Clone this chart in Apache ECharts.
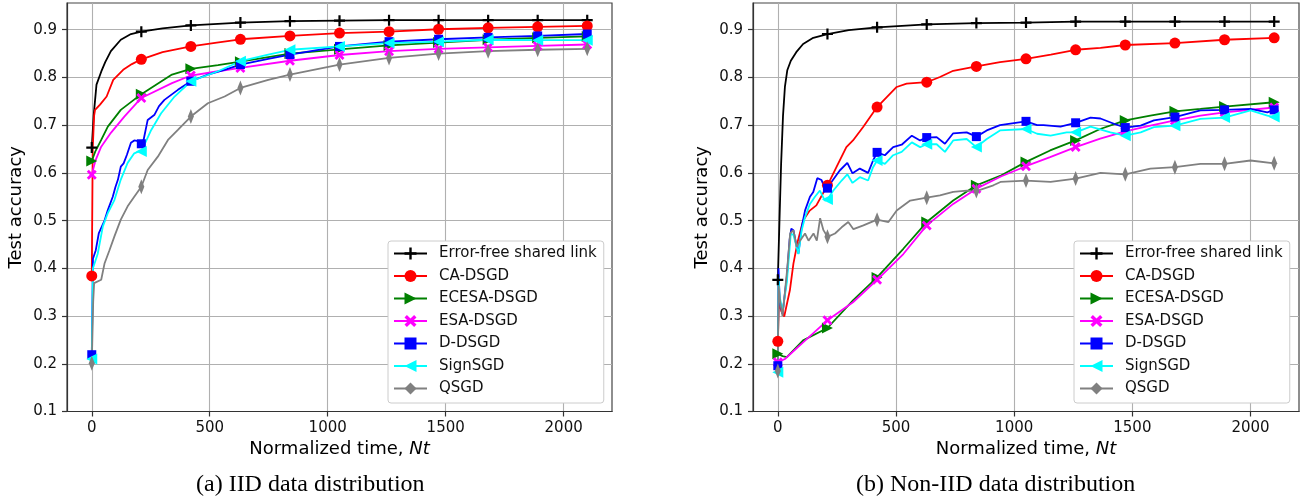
<!DOCTYPE html>
<html>
<head>
<meta charset="utf-8">
<script src="https://cdn.jsdelivr.net/npm/echarts@6/dist/echarts.min.js"></script>
<style>
html, body { margin: 0; padding: 0; background: #fff; }
#chart { width: 1312px; height: 501px; }
</style>
</head>
<body>
<div id="chart"></div>
<script>
const names = ['Error-free shared link', 'CA-DSGD', 'ECESA-DSGD', 'ESA-DSGD', 'D-DSGD', 'SignSGD', 'QSGD'];
const xTicks = [0, 500, 1000, 1500, 2000];
const yTicks = [0.1, 0.2, 0.3, 0.4, 0.5, 0.6, 0.7, 0.8, 0.9];
// markers are drawn only at these x values
const markX = [0, 210, 420, 630, 840, 1050, 1260, 1470, 1680, 1890, 2100];

// (a) IID
const iidErrFree = [[0,0.653],[8,0.72],[20,0.785],[40,0.812],[57,0.832],[81,0.855],[123,0.879],[166,0.891],[210,0.896],[300,0.903],[420,0.909],[630,0.915],[840,0.918],[1050,0.919],[1260,0.92],[1470,0.92],[1680,0.92],[1890,0.92],[2100,0.92]];
const iidCA = [[0,0.384],[4,0.65],[10,0.72],[14,0.732],[35,0.743],[63,0.76],[91,0.795],[133,0.816],[170,0.828],[210,0.838],[300,0.853],[420,0.865],[530,0.873],[630,0.88],[840,0.887],[1050,0.893],[1260,0.896],[1470,0.901],[1680,0.904],[1890,0.906],[2100,0.908]];
const iidECESA = [[0,0.625],[15,0.645],[40,0.669],[68,0.697],[123,0.732],[210,0.765],[340,0.806],[420,0.818],[535,0.826],[630,0.833],[840,0.85],[1050,0.859],[1260,0.867],[1470,0.873],[1680,0.879],[1890,0.883],[2100,0.886]];
const iidESA = [[0,0.596],[15,0.625],[40,0.655],[81,0.684],[138,0.718],[210,0.757],[340,0.788],[420,0.804],[535,0.813],[630,0.82],[840,0.835],[1050,0.847],[1260,0.855],[1470,0.86],[1680,0.863],[1890,0.866],[2100,0.869]];
const iidD = [[0,0.219],[5,0.42],[17,0.438],[30,0.474],[54,0.5],[68,0.522],[89,0.55],[100,0.57],[111,0.586],[123,0.613],[135,0.62],[149,0.638],[166,0.663],[180,0.668],[202,0.666],[210,0.661],[220,0.67],[237,0.711],[266,0.722],[285,0.74],[308,0.753],[365,0.774],[420,0.792],[492,0.806],[563,0.816],[630,0.827],[748,0.839],[840,0.848],[1050,0.865],[1260,0.875],[1470,0.88],[1680,0.884],[1890,0.887],[2100,0.891]];
const iidSign = [[0,0.21],[5,0.4],[25,0.43],[47,0.488],[68,0.516],[96,0.543],[123,0.586],[152,0.621],[180,0.641],[200,0.645],[210,0.645],[252,0.69],[294,0.725],[351,0.76],[420,0.792],[535,0.813],[630,0.834],[748,0.848],[840,0.858],[1050,0.865],[1260,0.872],[1470,0.875],[1680,0.879],[1890,0.878],[2100,0.878]];
const iidQ = [[0,0.201],[6,0.33],[10,0.369],[40,0.376],[54,0.41],[75,0.438],[96,0.467],[123,0.502],[152,0.53],[180,0.55],[210,0.571],[237,0.606],[280,0.634],[323,0.669],[365,0.69],[420,0.718],[492,0.746],[563,0.76],[630,0.778],[748,0.795],[840,0.806],[1050,0.827],[1260,0.841],[1470,0.85],[1680,0.855],[1890,0.858],[2100,0.86]];

// (b) Non-IID
const niidErrFree = [[0,0.376],[7,0.5],[14,0.62],[22,0.72],[30,0.78],[40,0.815],[55,0.835],[78,0.853],[107,0.87],[150,0.883],[210,0.891],[300,0.899],[420,0.905],[630,0.911],[840,0.914],[1050,0.915],[1260,0.917],[1470,0.917],[1680,0.917],[1890,0.917],[2100,0.917]];
const niidCA = [[0,0.247],[5,0.33],[15,0.31],[27,0.299],[51,0.354],[66,0.41],[85,0.458],[107,0.5],[135,0.521],[163,0.532],[210,0.574],[248,0.612],[290,0.654],[318,0.668],[361,0.696],[420,0.738],[461,0.759],[503,0.78],[545,0.787],[630,0.79],[686,0.801],[742,0.814],[840,0.823],[940,0.832],[1050,0.839],[1155,0.848],[1260,0.858],[1365,0.862],[1470,0.868],[1680,0.872],[1890,0.879],[2100,0.883]];
const niidECESA = [[0,0.221],[20,0.216],[38,0.214],[107,0.249],[210,0.275],[318,0.333],[420,0.381],[531,0.441],[630,0.497],[742,0.542],[840,0.574],[946,0.595],[1050,0.623],[1152,0.647],[1260,0.668],[1364,0.692],[1470,0.71],[1576,0.72],[1680,0.729],[1788,0.734],[1890,0.739],[2100,0.748]];
const niidESA = [[0,0.203],[30,0.21],[107,0.245],[210,0.291],[318,0.329],[420,0.376],[531,0.43],[630,0.49],[742,0.535],[840,0.567],[946,0.593],[1050,0.614],[1152,0.633],[1260,0.654],[1364,0.672],[1470,0.687],[1576,0.699],[1680,0.71],[1788,0.72],[1890,0.727],[2100,0.737]];
const niidD = [[0,0.196],[3,0.4],[8,0.33],[20,0.305],[38,0.381],[50,0.46],[57,0.483],[66,0.48],[77,0.452],[87,0.431],[101,0.486],[115,0.521],[136,0.55],[150,0.56],[167,0.589],[185,0.585],[199,0.568],[210,0.568],[227,0.581],[262,0.605],[294,0.621],[316,0.599],[347,0.609],[382,0.6],[403,0.626],[420,0.643],[453,0.637],[488,0.654],[524,0.659],[567,0.678],[602,0.668],[630,0.674],[672,0.675],[707,0.661],[742,0.683],[799,0.685],[840,0.676],[884,0.689],[940,0.7],[1050,0.708],[1097,0.7],[1124,0.7],[1196,0.697],[1260,0.705],[1323,0.716],[1365,0.714],[1422,0.703],[1470,0.695],[1535,0.699],[1591,0.71],[1680,0.717],[1788,0.731],[1890,0.732],[2000,0.734],[2071,0.727],[2100,0.732]];
const niidSign = [[0,0.182],[3,0.381],[8,0.34],[20,0.31],[38,0.37],[55,0.473],[66,0.47],[77,0.45],[87,0.43],[101,0.48],[115,0.507],[136,0.535],[157,0.55],[178,0.563],[199,0.542],[210,0.544],[235,0.563],[270,0.584],[294,0.597],[316,0.579],[347,0.591],[382,0.584],[403,0.612],[420,0.626],[453,0.619],[488,0.637],[524,0.644],[567,0.664],[602,0.654],[630,0.66],[672,0.66],[707,0.644],[742,0.668],[799,0.671],[840,0.654],[884,0.671],[940,0.689],[1050,0.692],[1097,0.682],[1154,0.678],[1222,0.685],[1260,0.685],[1323,0.697],[1407,0.685],[1470,0.678],[1535,0.685],[1591,0.696],[1680,0.699],[1788,0.713],[1890,0.716],[2000,0.731],[2071,0.72],[2100,0.717]];
const niidQ = [[0,0.185],[3,0.364],[10,0.33],[20,0.3],[40,0.4],[52,0.473],[66,0.48],[80,0.445],[94,0.458],[115,0.473],[130,0.458],[151,0.473],[165,0.458],[179,0.505],[193,0.48],[210,0.466],[242,0.473],[270,0.486],[298,0.497],[320,0.482],[362,0.49],[420,0.502],[468,0.497],[503,0.521],[560,0.542],[630,0.548],[686,0.553],[742,0.56],[799,0.563],[840,0.562],[912,0.574],[942,0.581],[1050,0.584],[1154,0.581],[1260,0.588],[1365,0.6],[1470,0.597],[1576,0.609],[1680,0.612],[1788,0.619],[1890,0.619],[2000,0.626],[2100,0.62]];

const colors = ['#000000', '#ff0000', '#008000', '#ff00ff', '#0000ff', '#00ffff', '#808080'];
const symbols = [
  'path://M4,0h2v4h4v2h-4v4h-2v-4h-4v-2h4z',
  'circle',
  'path://M0,0L10,5L0,10Z',
  'path://M0,2L2,0L5,3L8,0L10,2L7,5L10,8L8,10L5,7L2,10L0,8L3,5Z',
  'rect',
  'path://M10,0L0,5L10,10Z',
  'path://M3,0L6,5L3,10L0,5Z'
];
const symSizes = [11, 11, 11, 10, 9, 11, [10, 15]];

const font = 'DejaVu Sans';

function makeSeries(list, gi) {
  return list.map((d, i) => ({
    name: names[i],
    type: 'line',
    xAxisIndex: gi,
    yAxisIndex: gi,
    data: d,
    symbol: symbols[i],
    symbolSize: (v) => (markX.includes(v[0]) ? symSizes[i] : 0),
    symbolKeepAspect: true,
    showSymbol: true,
    animation: false,
    emphasis: { disabled: true },
    lineStyle: { color: colors[i], width: 1.8 },
    itemStyle: { color: colors[i] }
  }));
}

function xAx(gi) {
  return {
    type: 'value', gridIndex: gi, min: -105, max: 2205,
    name: 'Normalized time, {i|Nt}', nameLocation: 'middle', nameGap: 28,
    nameTextStyle: { fontFamily: font, fontSize: 18, color: '#000', rich: { i: { fontFamily: font, fontSize: 18, fontStyle: 'italic' } } },
    axisLine: { show: true, onZero: false, lineStyle: { color: '#333', width: 1.2 } },
    axisTick: { show: true, length: 5, customValues: xTicks, lineStyle: { color: '#333', width: 1.2 } },
    axisLabel: { customValues: xTicks, margin: 9, fontFamily: font, fontSize: 15, color: '#111', formatter: (v) => String(v) },
    splitLine: { show: true, lineStyle: { color: '#b0b0b0', width: 1.1 } }
  };
}

function yAx(gi) {
  return {
    type: 'value', gridIndex: gi, min: 0.1, max: 0.956,
    name: 'Test accuracy', nameLocation: 'middle', nameGap: 42,
    nameTextStyle: { fontFamily: font, fontSize: 18, color: '#000' },
    axisLine: { show: true, onZero: false, lineStyle: { color: '#333', width: 1.2 } },
    axisTick: { show: true, length: 5, customValues: yTicks, lineStyle: { color: '#333', width: 1.2 } },
    axisLabel: { customValues: yTicks, margin: 10, fontFamily: font, fontSize: 15, color: '#111', formatter: (v) => v.toFixed(1) },
    splitLine: { show: true, lineStyle: { color: '#b0b0b0', width: 1.1 } }
  };
}

function legend(left) {
  return {
    orient: 'vertical', left: left, top: 241,
    data: names,
    itemWidth: 33, itemHeight: 15, itemGap: 7.5,
    padding: [5, 7, 7, 5],
    backgroundColor: '#ffffff', borderColor: '#cccccc', borderWidth: 1, borderRadius: 3,
    selectedMode: false,
    formatter: (n) => '{g| }{t|' + n + '}',
    textStyle: {
      fontFamily: font, fontSize: 15, color: '#111',
      rich: {
        g: { width: 7, height: 15, fontSize: 15 },
        t: { fontFamily: font, fontSize: 15, color: '#111', lineHeight: 15 }
      }
    }
  };
}

const chart = echarts.init(document.getElementById('chart'));
chart.setOption({
  animation: false,
  backgroundColor: '#ffffff',
  grid: [
    { left: 67, top: 3, width: 545, height: 408.5, show: true, borderColor: '#444', borderWidth: 1.2 },
    { left: 753, top: 3, width: 546, height: 408.5, show: true, borderColor: '#444', borderWidth: 1.2 }
  ],
  xAxis: [xAx(0), xAx(1)],
  yAxis: [yAx(0), yAx(1)],
  legend: [legend(388), legend(1074)],
  series: makeSeries([iidErrFree, iidCA, iidECESA, iidESA, iidD, iidSign, iidQ], 0)
    .concat(makeSeries([niidErrFree, niidCA, niidECESA, niidESA, niidD, niidSign, niidQ], 1)),
  graphic: [
    { type: 'text', left: 312 - 116, top: 473, style: { text: '(a) IID data distribution', fontFamily: 'Liberation Serif', fontSize: 24, fill: '#000' } },
    { type: 'text', left: 998 - 142, top: 473, style: { text: '(b) Non-IID data distribution', fontFamily: 'Liberation Serif', fontSize: 24, fill: '#000' } }
  ]
});
</script>
</body>
</html>
